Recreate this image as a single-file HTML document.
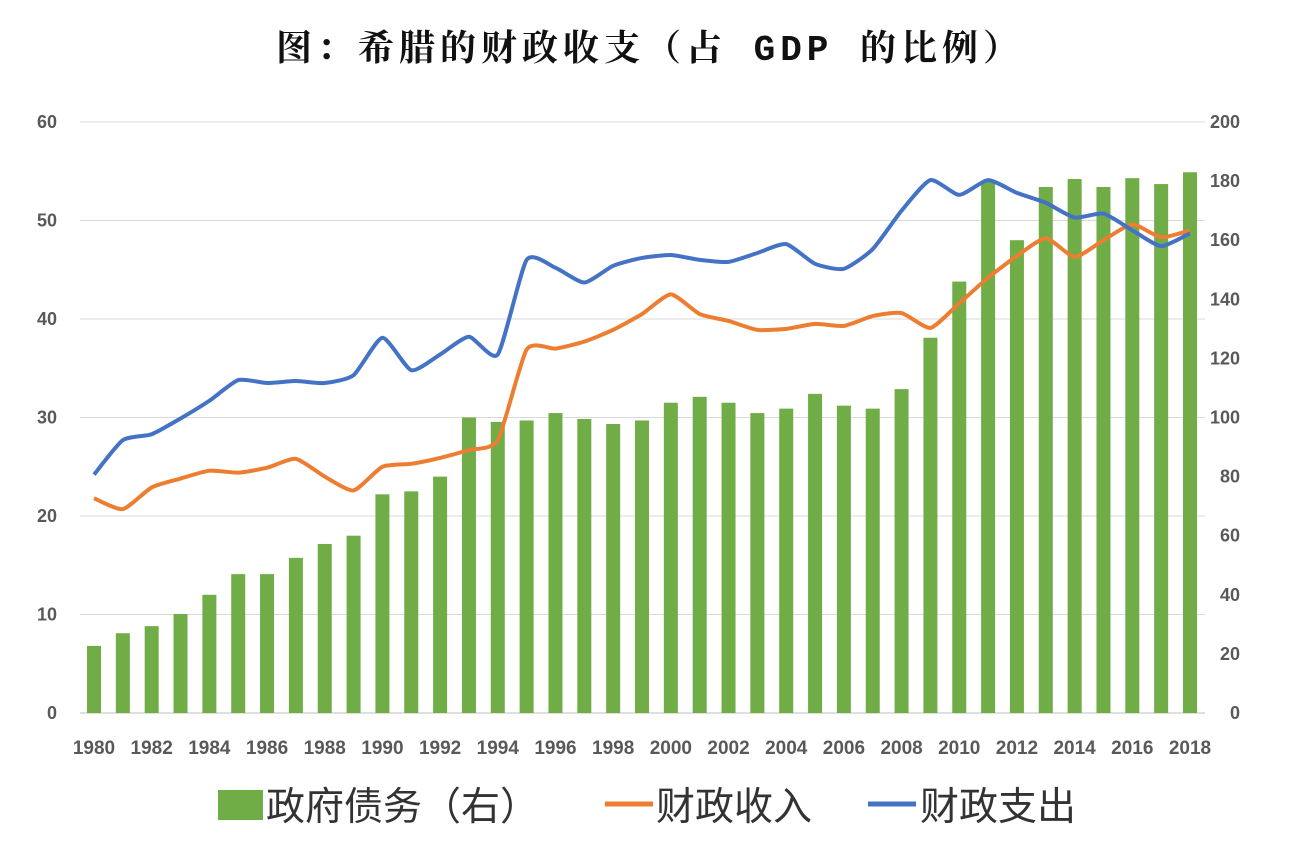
<!DOCTYPE html>
<html><head><meta charset="utf-8"><style>
body{margin:0;background:#fff;width:1300px;height:848px;overflow:hidden}
svg text{font-family:"Liberation Sans","Noto Sans CJK SC",sans-serif}
</style></head><body>
<svg id="c" width="1300" height="848">
<text x="650" y="60" text-anchor="middle" font-size="36" letter-spacing="5" font-weight="bold" fill="#111" style="font-family:'Liberation Mono','Noto Serif CJK SC',serif">图：希腊的财政收支（占 GDP 的比例）</text>
<g id="grid"></g><g id="bars"></g><g id="lines"></g><g id="axes"></g>
<g>
<rect x="218" y="790" width="45" height="30" fill="#70AD47"/>
<text x="266" y="820" font-size="39" fill="#333">政府债务（右）</text>
<line x1="605" y1="804" x2="653" y2="804" stroke="#ED7D31" stroke-width="5"/>
<text x="656" y="820" font-size="39" fill="#333">财政收入</text>
<line x1="868" y1="804" x2="916" y2="804" stroke="#4472C4" stroke-width="5"/>
<text x="920" y="820" font-size="39" fill="#333">财政支出</text>
</g>
</svg>
<script>
const years=[];for(let y=1980;y<=2018;y++)years.push(y);
const debt=[22.7,27,29.4,33.5,40,47,47,52.5,57.2,60,74,75,80,100,98.5,99,101.5,99.5,97.8,99,105,107,105,101.5,103,108,104,103,109.6,127,146,180,160,178,180.7,178,181,179,183];
const revenue=[21.8,20.7,22.9,23.8,24.6,24.4,24.9,25.8,24,22.6,25,25.3,25.9,26.7,27.7,36.9,37,37.7,38.9,40.5,42.5,40.5,39.8,38.9,39,39.5,39.3,40.3,40.6,39.1,41.6,44.2,46.4,48.2,46.3,48,49.6,48.3,49];
const expenditure=[24.2,27.7,28.3,29.9,31.7,33.8,33.5,33.7,33.5,34.3,38.1,34.8,36.4,38.2,36.4,46,45.2,43.7,45.4,46.2,46.5,46,45.8,46.7,47.6,45.6,45.1,47.1,51,54.1,52.6,54.1,52.8,51.8,50.3,50.7,49,47.4,48.7];
const leftTicks=[0,10,20,30,40,50,60];
const rightTicks=[0,20,40,60,80,100,120,140,160,180,200];
const NS="http://www.w3.org/2000/svg";
const x=i=>94+i*(1190-94)/38;
const yL=v=>713-v*(591/60);
const yR=v=>713-v*(591/200);
function mk(t,a,p){const e=document.createElementNS(NS,t);for(const k in a)e.setAttribute(k,a[k]);document.getElementById(p).appendChild(e);return e;}
leftTicks.forEach(v=>{
 const l=mk('line',{x1:80,x2:1205,y1:yL(v),y2:yL(v),stroke:v?'#d9d9d9':'#bfbfbf','stroke-width':1},'grid');
 
 
 const t=mk('text',{x:57,y:yL(v)+6,'text-anchor':'end','font-size':18,'font-weight':'bold',fill:'#595959'},'axes');t.textContent=v;
 
 
});
rightTicks.forEach(v=>{
 const t=mk('text',{x:1240,y:yR(v)+6,'text-anchor':'end','font-size':18,'font-weight':'bold',fill:'#595959'},'axes');t.textContent=v;
 
 
});
years.forEach((yr,i)=>{
 const b=mk('rect',{x:x(i)-7,y:yR(debt[i]),width:14,height:713-yR(debt[i]),fill:'#70AD47'},'bars');
 
 
 if(i%2==0){const t=mk('text',{x:x(i),y:754,'text-anchor':'middle','font-size':19,'font-weight':'bold',fill:'#595959'},'axes');t.textContent=yr;
 
 }
});
function path(arr){const p=arr.map((v,i)=>[x(i),yL(v)]);let d='M'+p[0];
 for(let i=0;i<p.length-1;i++){const p0=p[i-1]||p[i],p1=p[i],p2=p[i+1],p3=p[i+2]||p2;const k=1/10;
 d+=' C'+(p1[0]+(p2[0]-p0[0])*k)+','+(p1[1]+(p2[1]-p0[1])*k)+' '+(p2[0]-(p3[0]-p1[0])*k)+','+(p2[1]-(p3[1]-p1[1])*k)+' '+p2;}return d;}
const r=mk('path',{d:path(revenue),fill:'none',stroke:'#ED7D31','stroke-width':4,'stroke-linejoin':'round'},'lines');


const e=mk('path',{d:path(expenditure),fill:'none',stroke:'#4472C4','stroke-width':4,'stroke-linejoin':'round'},'lines');


</script>
</body></html>
